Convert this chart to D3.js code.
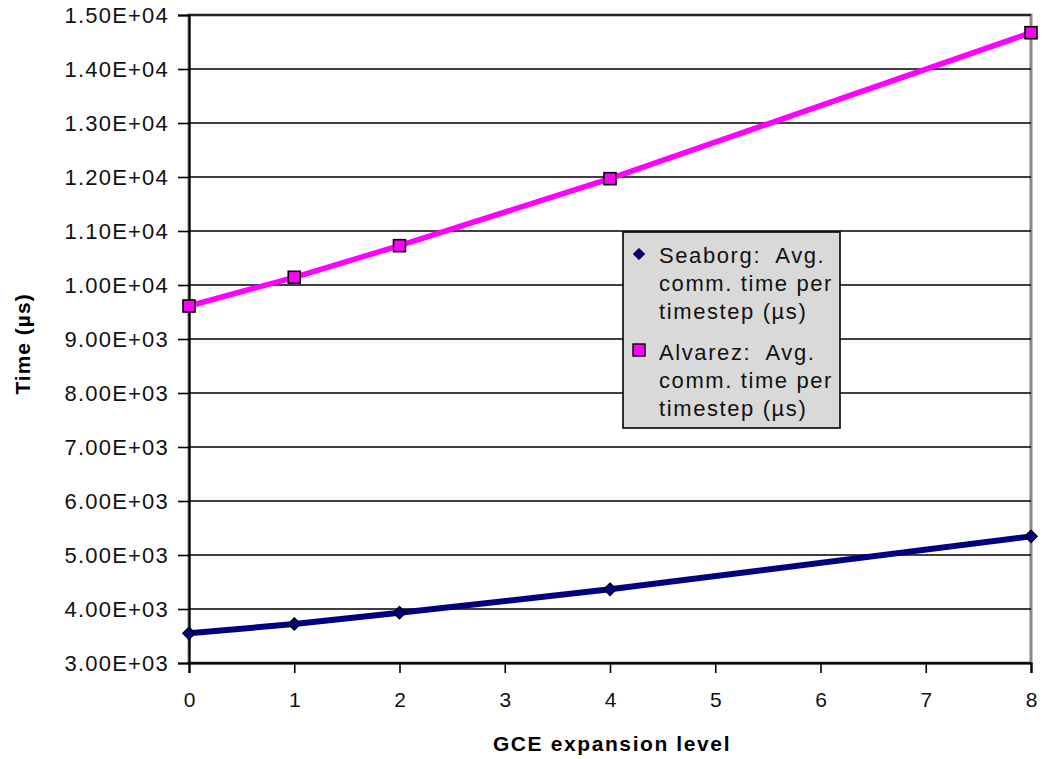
<!DOCTYPE html>
<html>
<head>
<meta charset="utf-8">
<script src="https://cdn.jsdelivr.net/npm/d3@7"></script>
<style>
  html, body { margin: 0; padding: 0; background: #fff; }
  svg { display: block; font-family: "Liberation Sans", Arial, sans-serif; }
</style>
</head>
<body>
<svg id="chart" width="1044" height="759"></svg>
<script>
// GCE expansion levels measured
const levels = [0, 1, 2, 4, 8];
// Average communication time per timestep (µs)
const seaborg = [3550, 3722, 3931, 4365, 5345];
const alvarez = [9611, 10143, 10728, 11969, 14672];
const xTicks = [0, 1, 2, 3, 4, 5, 6, 7, 8];
const yTicks = [3000, 4000, 5000, 6000, 7000, 8000, 9000, 10000, 11000, 12000, 13000, 14000, 15000];
const seriesNames = [
  ["Seaborg:  Avg.", "comm. time per", "timestep (\u00b5s)"],
  ["Alvarez:  Avg.", "comm. time per", "timestep (\u00b5s)"]
];

const svg = d3.select("#chart");
const m = { left: 189, right: 1031, top: 15, bottom: 663 };

const x = d3.scaleLinear().domain([0, 8]).range([m.left, m.right]);
const y = d3.scaleLinear().domain([3000, 15000]).range([m.bottom, m.top]);

const fmt = v => {
  const e = Math.floor(Math.log10(v));
  const mant = (v / Math.pow(10, e)).toFixed(2);
  return mant + "E+" + String(e).padStart(2, "0");
};

// Plot frame (grey top/right edges)
svg.append("rect")
  .attr("x", m.left).attr("y", m.top)
  .attr("width", m.right - m.left).attr("height", m.bottom - m.top)
  .attr("fill", "#fff").attr("stroke", "#8a8a8a").attr("stroke-width", 3);

// Horizontal gridlines
svg.append("g").selectAll("line").data(yTicks).join("line")
  .attr("x1", m.left).attr("x2", m.right)
  .attr("y1", d => y(d)).attr("y2", d => y(d))
  .attr("stroke", "#000").attr("stroke-width", 1.6);

// Y axis
const yAxis = svg.append("g")
  .attr("transform", `translate(${m.left},0)`)
  .call(d3.axisLeft(y).tickValues(yTicks).tickFormat(fmt).tickSize(11).tickPadding(9));
yAxis.select(".domain").attr("stroke", "#000").attr("stroke-width", 2.2);
yAxis.selectAll(".tick line").attr("stroke", "#000").attr("stroke-width", 1.6);
yAxis.selectAll(".tick text")
  .attr("font-size", 22).attr("fill", "#111").style("letter-spacing", "1.2px")
  .attr("font-family", "'Liberation Sans', Arial, sans-serif");

// X axis
const xAxis = svg.append("g")
  .attr("transform", `translate(0,${m.bottom})`)
  .call(d3.axisBottom(x).tickValues(xTicks).tickFormat(d3.format("d")).tickSize(10).tickPadding(19));
xAxis.select(".domain").attr("stroke", "#000").attr("stroke-width", 2.2);
xAxis.selectAll(".tick line").attr("stroke", "#000").attr("stroke-width", 1.6);
xAxis.selectAll(".tick text")
  .attr("font-size", 21).attr("fill", "#111")
  .attr("font-family", "'Liberation Sans', Arial, sans-serif");

// Axis titles
svg.append("text")
  .attr("x", 612).attr("y", 751)
  .attr("text-anchor", "middle")
  .attr("font-size", 21).attr("font-weight", "bold").style("letter-spacing", "1.6px")
  .text("GCE expansion level");

svg.append("text")
  .attr("transform", "translate(30,344) rotate(-90)")
  .attr("text-anchor", "middle")
  .attr("font-size", 21).attr("font-weight", "bold").style("letter-spacing", "1px")
  .text("Time (\u00b5s)");

// Series lines
const line = d3.line().x(d => x(d[0])).y(d => y(d[1]));
const seaPts = levels.map((l, i) => [l, seaborg[i]]);
const alvPts = levels.map((l, i) => [l, alvarez[i]]);

svg.append("path").datum(seaPts).attr("d", line)
  .attr("fill", "none").attr("stroke", "#000080").attr("stroke-width", 6);
svg.append("path").datum(alvPts).attr("d", line)
  .attr("fill", "none").attr("stroke", "#ff00ff").attr("stroke-width", 5.5);

// Markers
const diamond = d3.symbol().type(d3.symbolDiamond2).size(100);
svg.append("g").selectAll("path").data(seaPts).join("path")
  .attr("transform", d => `translate(${x(d[0])},${y(d[1])})`)
  .attr("d", diamond)
  .attr("fill", "#000080").attr("stroke", "#000").attr("stroke-width", 1.2);

svg.append("g").selectAll("rect").data(alvPts).join("rect")
  .attr("x", d => x(d[0]) - 6).attr("y", d => y(d[1]) - 6)
  .attr("width", 12).attr("height", 12)
  .attr("fill", "#ff00ff").attr("stroke", "#000").attr("stroke-width", 1.6);

// Legend
const lg = svg.append("g").attr("transform", "translate(623,232)");
lg.append("rect").attr("width", 217).attr("height", 196)
  .attr("fill", "#d9d9d9").attr("stroke", "#000").attr("stroke-width", 1.6);

const lineGap = 28;
const groupTop = [31, 128];
seriesNames.forEach((lines, si) => {
  lines.forEach((t, li) => {
    lg.append("text")
      .attr("x", 36).attr("y", groupTop[si] + li * lineGap)
      .attr("font-size", 22).attr("fill", "#111")
      .style("letter-spacing", "1.6px").style("white-space", "pre")
      .text(t);
  });
});
lg.append("path")
  .attr("transform", "translate(16,22)")
  .attr("d", d3.symbol().type(d3.symbolDiamond2).size(80))
  .attr("fill", "#000080").attr("stroke", "#000").attr("stroke-width", 1);
lg.append("rect")
  .attr("x", 10).attr("y", 112).attr("width", 12).attr("height", 12)
  .attr("fill", "#ff00ff").attr("stroke", "#000").attr("stroke-width", 1.4);
</script>
</body>
</html>
